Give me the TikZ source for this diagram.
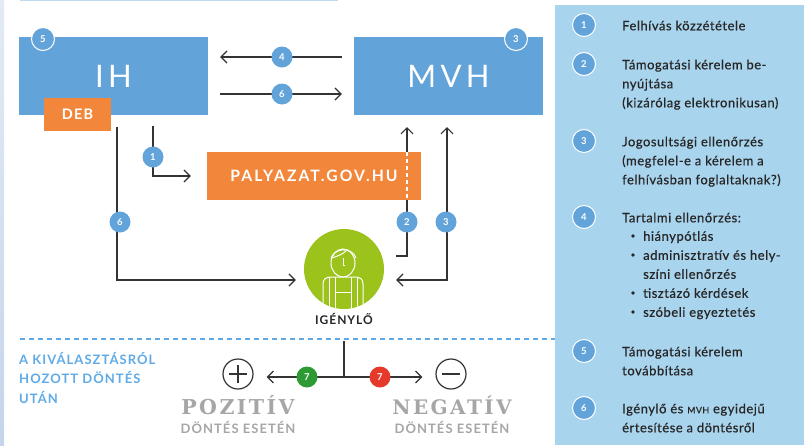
\documentclass[tikz,border=0pt]{standalone}
\usepackage{fontspec}
\setmainfont{Lato}
\newfontfamily\wideface[LetterSpace=14]{Lato}
\newfontfamily\capface[LetterSpace=8]{Lato}
\newfontfamily\urlface[LetterSpace=13]{Lato}
\newfontfamily\legendface[FakeBold=0.5,LetterSpace=4]{Lato}
\newfontfamily\slabface[LetterSpace=12]{DejaVu Serif}
\usetikzlibrary{calc,positioning,arrows.meta}
\pgfdeclarelayer{back}
\pgfdeclarelayer{front}
\pgfsetlayers{back,main,front}
\definecolor{boxblue}{HTML}{62A3DA}
\definecolor{panelblue}{HTML}{A9D4ED}
\definecolor{dashblue}{HTML}{5FAAE6}
\definecolor{boxorange}{HTML}{F2873C}
\definecolor{applgreen}{HTML}{9BC31C}
\definecolor{linegray}{HTML}{333333}
\definecolor{softgray}{HTML}{A6A6A6}
\definecolor{okgreen}{HTML}{2E9A33}
\definecolor{nored}{HTML}{E5392B}
\definecolor{stripstart}{HTML}{E3EAF5}
\definecolor{stripend}{HTML}{C5D5EA}

\begin{document}
\begin{tikzpicture}[
  x=1pt,y=-1pt,
  bluebox/.style={rectangle,fill=boxblue,text=white,minimum width=189pt,minimum height=78pt,inner sep=0pt},
  orangebox/.style={rectangle,fill=boxorange,text=white,inner sep=0pt},
  num/.style={circle,fill=boxblue,text=white,minimum size=21pt,inner sep=0pt,font=\bfseries\fontsize{9.5}{9.5}\selectfont},
  ringnum/.style={num,draw=white,line width=1pt,minimum size=23pt},
  conn/.style={draw=linegray,line width=1.2pt,-{Straight Barb[length=6pt,width=12pt,line width=1.2pt]}},
  plain/.style={draw=linegray,line width=1.2pt},
  sign/.style={circle,draw=linegray,line width=1.2pt,minimum size=30pt,inner sep=0pt},
  legendtext/.style={anchor=north west,inner sep=0pt,align=left,text=black!85,font=\legendface\fontsize{13}{19}\selectfont},
  ]

  \useasboundingbox (0,0) rectangle (804,445);

  % edge strips
  \shade[top color=stripstart,bottom color=stripend] (0,0) rectangle (4,445);
  \fill[boxblue!40] (20,0) rectangle (338,1.2);
  \fill[panelblue] (555,5) rectangle (804,445);

  % boxes
  \node (ih) [bluebox,font=\wideface\fontsize{31}{31}\selectfont] at (113.5,76) {IH};
  \node (mvh) [bluebox,font=\wideface\fontsize{31}{31}\selectfont] at (448.5,76) {MVH};
  \node (deb) [orangebox,minimum width=67pt,minimum height=33pt,font=\capface\bfseries\fontsize{14.5}{14.5}\selectfont] at (77.5,114.5) {DEB};
  \node (portal) [orangebox,minimum width=214pt,minimum height=48pt,font=\urlface\bfseries\fontsize{15.7}{15.7}\selectfont] at (314,176) {PALYAZAT.GOV.HU};

  \node (applicant) [circle,fill=applgreen,minimum size=80pt,inner sep=0pt] at (344,269) {};
  \node (applicant_label) [font=\capface\bfseries\fontsize{12}{12}\selectfont,text=black!85] at (344,319) {IGÉNYLŐ};

  % worker
  \begin{scope}[draw=white,line width=1pt]
    \clip (344,269) circle (40);
    \draw (343,263) ellipse (12 and 14);
    \draw (331,259) .. controls (333,248) and (352,246) .. (356,258);
    \draw (332,258) .. controls (338,256) and (343,254) .. (346,251);
    \draw (343,258) -- (343,265) -- (345,265);
    \draw (323,312) -- (323,284) .. controls (323,279) and (326,277) .. (331,277) -- (355,277) .. controls (360,277) and (363,279) .. (363,284) -- (363,312);
    \draw (329,312) -- (329,277);
    \draw (335,312) -- (335,277);
    \draw (351,312) -- (351,277);
    \draw (357,312) -- (357,277);
    \draw (335,292) -- (351,292);
  \end{scope}

  % badges
  \begin{pgfonlayer}{front}
    \node (num_4) [num] at (282,57) {4};
    \node (num_6_top) [num] at (282,94) {6};
    \node (num_1) [num] at (153,157) {1};
    \node (num_6) [num] at (120,222) {6};
    \node (num_2) [num] at (407,222) {2};
    \node (num_3) [num] at (446,222) {3};
    \node (num_5) [ringnum] at (43,39) {5};
    \node (num_3_top) [ringnum] at (516,39) {3};
    \node (num_7a) [num,fill=okgreen] at (307,377) {7};
    \node (num_7b) [num,fill=nored] at (380,377) {7};
  \end{pgfonlayer}

  \coordinate (ih_foot) at (153,126);
  \coordinate (deb_foot) at (117,127);
  \coordinate (mvh_foot2) at (407,127);
  \coordinate (mvh_foot3) at (447,127);
  \coordinate (appl_out) at (396,256);
  \coordinate (appl_in) at (0,280);
  \coordinate (branch_top) at (344,341);
  \coordinate (branch_mid) at (344,377);

  \begin{pgfonlayer}{back}
    \draw[conn,shorten <=12pt,shorten >=12pt] (mvh.west |- num_4) -- (ih.east |- num_4);
    \draw[conn,shorten <=12pt,shorten >=12pt] (ih.east |- num_6_top) -- (mvh.west |- num_6_top);
    \draw[conn] (ih_foot) -- (ih_foot |- portal) -- ($(portal.west)+(-16,0)$);
    \draw[conn] (deb_foot) -- (deb_foot |- appl_in) -- ($(applicant.west |- appl_in)+(-8,0)$);
    \draw[conn] (appl_out) -- (mvh_foot2 |- appl_out) -- (mvh_foot2);
    \draw[conn,{Straight Barb[length=6pt,width=12pt,line width=1.2pt]}-{Straight Barb[length=6pt,width=12pt,line width=1.2pt]}] ($(applicant.east |- appl_in)+(12,0)$) -- (mvh_foot3 |- appl_in) -- (mvh_foot3);
  \end{pgfonlayer}
  \draw[draw=white,line width=1.3pt,dash pattern=on 4pt off 3pt] (mvh_foot2 |- portal.north) -- (mvh_foot2 |- portal.south);

  % lower part
  \draw[dashblue,line width=1.3pt,dash pattern=on 5pt off 4pt] (20,339) -- (555,339);

  \node (plus) [sign] at (238,374) {};
  \node (minus) [sign] at (451,374) {};
  \draw[linegray,line width=1.2pt] ($(plus)+(-9,0)$) -- ($(plus)+(9,0)$) ($(plus)+(0,-9)$) -- ($(plus)+(0,9)$);
  \draw[linegray,line width=1.2pt] ($(minus)+(-9,0)$) -- ($(minus)+(9,0)$);

  \draw[plain] (branch_top) -- (branch_mid);
  \draw[conn] (branch_mid) -- ($(plus.east |- branch_mid)+(13,0)$);
  \draw[conn] (branch_mid) -- ($(minus.west |- branch_mid)+(-13,0)$);

  \node (pos_label) [font=\slabface\bfseries\fontsize{20.5}{20.5}\selectfont,text=softgray] at (238,405) {POZITÍV};
  \node (neg_label) [font=\slabface\bfseries\fontsize{20}{20}\selectfont,text=softgray] at (452,405) {NEGATÍV};
  \node (pos_sub) [font=\capface\bfseries\fontsize{13}{13}\selectfont,text=softgray] at (238,427) {DÖNTÉS ESETÉN};
  \node (neg_sub) [font=\capface\bfseries\fontsize{13}{13}\selectfont,text=softgray] at (452,427) {DÖNTÉS ESETÉN};

  \node (after_label) [anchor=north west,inner sep=0pt,align=left,text=dashblue,font=\capface\bfseries\fontsize{13}{19.5}\selectfont] at (19,352) {A KIVÁLASZTÁSRÓL\\HOZOTT DÖNTÉS\\UTÁN};

  % legend
  \foreach \n/\yy/\txt in {
    1/25/{Felhívás közzététele},
    2/64/{Támogatási kérelem be-\\nyújtása\\(kizárólag elektronikusan)},
    3/141/{Jogosultsági ellenőrzés\\(megfelel-e a kérelem a\\felhívásban foglaltaknak?)},
    4/217/{Tartalmi ellenőrzés:},
    5/351/{Támogatási kérelem\\továbbítása},
    6/408/{Igénylő és {\fontsize{9}{9}\selectfont MVH} egyidejű\\értesítése a döntésről}}
  {
    \node (legend_\n) [ringnum] at (584,\yy) {\n};
    \node (legend_text_\n) [legendtext] at (622,\yy-4.5) {\txt};
  }
  \node (legend_items) [legendtext] at (643,231) {hiánypótlás\\adminisztratív és hely-\\színi ellenőrzés\\tisztázó kérdések\\szóbeli egyeztetés};
  \foreach \yy in {236,255,293,312}
    \fill[black!85] (633,\yy) circle (1.8);

\end{tikzpicture}
\end{document}
